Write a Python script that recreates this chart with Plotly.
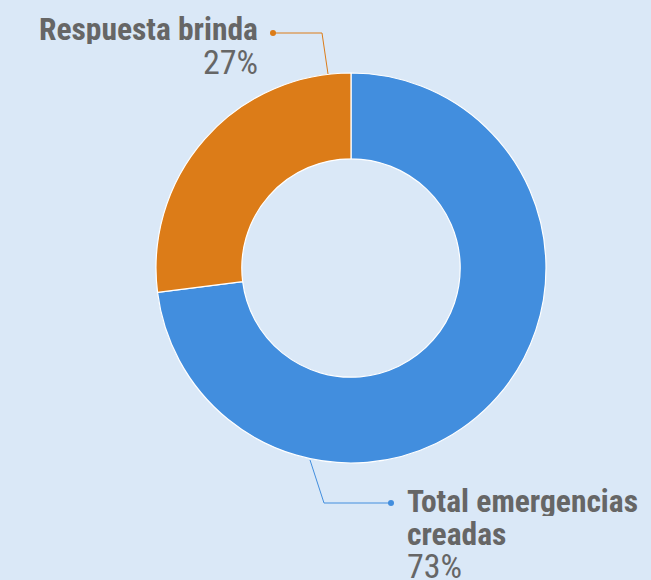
import plotly.graph_objects as go

labels = ["Total emergencias creadas", "Respuesta brinda"]
values = [73, 27]
pct_labels = ["73%", "27%"]
colors = ["#428EDE", "#DC7C18"]

W, H = 651, 580
BG = "#DAE8F7"
TXT = "#666666"
FONT = "Liberation Sans Narrow, Roboto Condensed, Roboto, sans-serif"

def px(x):
    return x / W

def py(y):
    return 1 - y / H

fig = go.Figure(go.Pie(
    labels=labels, values=values, sort=False, direction="counterclockwise",
    rotation=0, hole=0.56, textinfo="none", hoverinfo="label+percent",
    marker=dict(colors=colors, line=dict(color="white", width=1.2)),
    domain=dict(x=[px(156), px(546)], y=[py(463), py(73)]),
    showlegend=False,
))

shapes = [
    # orange leader
    dict(type="line", xref="paper", yref="paper", x0=px(273), y0=py(33), x1=px(322), y1=py(33),
         line=dict(color=colors[1], width=1)),
    dict(type="line", xref="paper", yref="paper", x0=px(322), y0=py(33), x1=px(328), y1=py(74),
         line=dict(color=colors[1], width=1)),
    dict(type="circle", xref="paper", yref="paper", x0=px(270), y0=py(30), x1=px(276), y1=py(36),
         fillcolor=colors[1], line=dict(color=colors[1], width=0)),
    # blue leader
    dict(type="line", xref="paper", yref="paper", x0=px(310), y0=py(460), x1=px(324), y1=py(503),
         line=dict(color=colors[0], width=1)),
    dict(type="line", xref="paper", yref="paper", x0=px(324), y0=py(503), x1=px(391), y1=py(503),
         line=dict(color=colors[0], width=1)),
    dict(type="circle", xref="paper", yref="paper", x0=px(388), y0=py(500), x1=px(394), y1=py(506),
         fillcolor=colors[0], line=dict(color=colors[0], width=0)),
]

def ann(text, x, y, xanchor, size, bold):
    return dict(text=text, x=px(x), y=py(y), xref="paper", yref="paper",
                xanchor=xanchor, yanchor="middle", showarrow=False,
                height=29, valign="middle", borderpad=0,
                font=dict(family=FONT, size=size, color=TXT,
                          weight="bold" if bold else "normal"))

annotations = [
    ann(labels[1], 259, 30, "right", 31.5, True),
    ann(pct_labels[1], 259, 61, "right", 34, False),
    ann("Total emergencias", 406, 501, "left", 31.5, True),
    ann("creadas", 406, 534, "left", 31.5, True),
    ann(pct_labels[0], 406, 565, "left", 34, False),
]

fig.update_layout(
    width=W, height=H, paper_bgcolor=BG, plot_bgcolor=BG,
    margin=dict(l=0, r=0, t=0, b=0),
    shapes=shapes, annotations=annotations,
)

fig.write_html("out.html", config={"displayModeBar": False},
               post_script="document.body.style.margin='0';document.body.style.background='%s';" % BG)
